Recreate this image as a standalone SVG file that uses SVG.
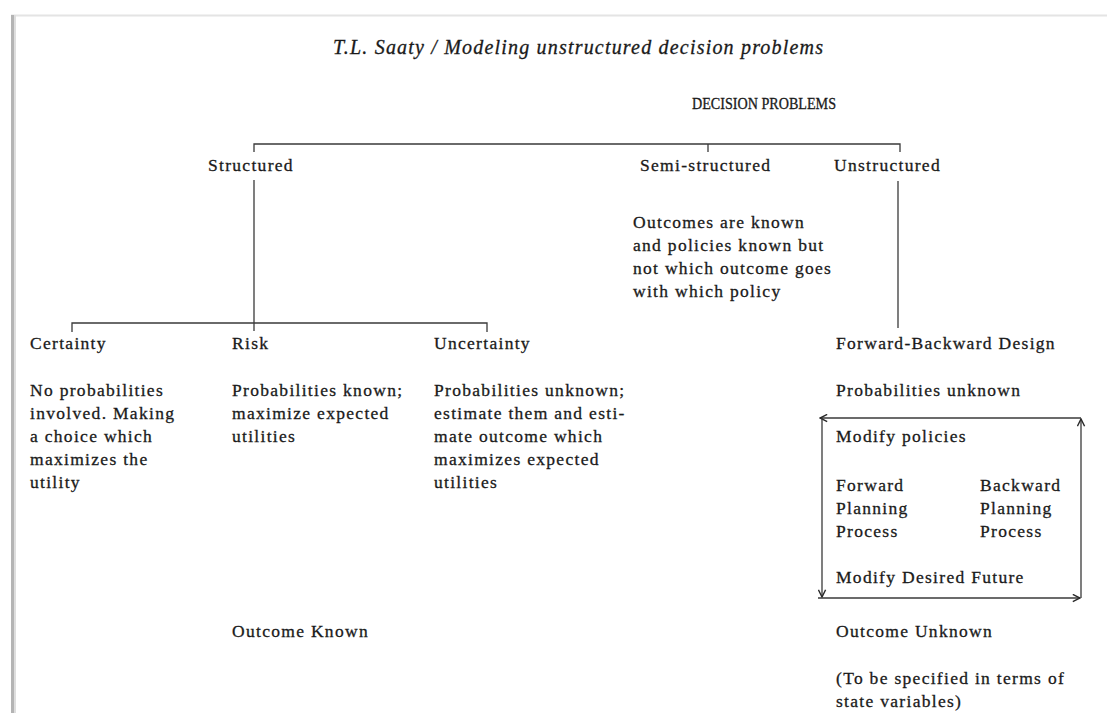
<svg xmlns="http://www.w3.org/2000/svg" width="1107" height="713" viewBox="0 0 1107 713">
  <style>
    .t { font-family: "Liberation Serif", "Times New Roman", serif; font-size: 17.5px; fill: #1a1a1a; stroke: #1a1a1a; stroke-width: 0.3px; letter-spacing: 1.3px; }
    .caps { font-size: 16px; letter-spacing: 0; }
    .it { font-style: italic; font-size: 20px; letter-spacing: 0; }
    .ln { stroke: #3a3a3a; stroke-width: 1.3; fill: none; }
  </style>
  <defs>
    <marker id="head" viewBox="0 0 10 10" refX="9" refY="5" markerWidth="9" markerHeight="9" markerUnits="userSpaceOnUse" orient="auto">
      <path d="M1,1 L9,5 L1,9" fill="none" stroke="#2a2a2a" stroke-width="1.6"/>
    </marker>
  </defs>

  <rect width="1107" height="713" fill="#ffffff"/>

  <!-- page edge -->
  <g id="page-edge">
    <line x1="11" y1="15.5" x2="1107" y2="15.5" stroke="#e4e4e4" stroke-width="2"/>
    <rect x="11" y="15" width="3" height="698" fill="#b4b4b4"/>
    <rect x="14" y="15" width="2" height="698" fill="#dedede"/>
  </g>

  <g id="title">
    <text class="t it" x="333" y="54" textLength="490">T.L. Saaty / Modeling unstructured decision problems</text>
  </g>

  <!-- tree connectors -->
  <g id="connectors" class="ln">
    <polyline points="254,152 254,144 900,144 900,152"/>
    <line x1="708" y1="144" x2="708" y2="152"/>
    <line x1="254" y1="180" x2="254" y2="331"/>
    <polyline points="72,332 72,323 487,323 487,332"/>
    <line x1="898" y1="181" x2="898" y2="328"/>
  </g>

  <g id="decision-problems">
    <text class="t caps" x="692" y="109" textLength="144" lengthAdjust="spacingAndGlyphs">DECISION PROBLEMS</text>
  </g>

  <g id="structured">
    <text class="t" x="208" y="171">Structured</text>
  </g>

  <g id="semi-structured">
    <text class="t" x="640" y="171">Semi-structured</text>
    <text class="t" x="633" y="228">Outcomes are known</text>
    <text class="t" x="633" y="251">and policies known but</text>
    <text class="t" x="633" y="274">not which outcome goes</text>
    <text class="t" x="633" y="297">with which policy</text>
  </g>

  <g id="unstructured">
    <text class="t" x="834" y="171">Unstructured</text>
  </g>

  <g id="certainty">
    <text class="t" x="30" y="349">Certainty</text>
    <text class="t" x="30" y="396">No probabilities</text>
    <text class="t" x="30" y="419">involved. Making</text>
    <text class="t" x="30" y="442">a choice which</text>
    <text class="t" x="30" y="465">maximizes the</text>
    <text class="t" x="30" y="488">utility</text>
  </g>

  <g id="risk">
    <text class="t" x="232" y="349">Risk</text>
    <text class="t" x="232" y="396">Probabilities known;</text>
    <text class="t" x="232" y="419">maximize expected</text>
    <text class="t" x="232" y="442">utilities</text>
  </g>

  <g id="uncertainty">
    <text class="t" x="434" y="349">Uncertainty</text>
    <text class="t" x="434" y="396">Probabilities unknown;</text>
    <text class="t" x="434" y="419">estimate them and esti-</text>
    <text class="t" x="434" y="442">mate outcome which</text>
    <text class="t" x="434" y="465">maximizes expected</text>
    <text class="t" x="434" y="488">utilities</text>
  </g>

  <g id="forward-backward">
    <text class="t" x="836" y="349">Forward-Backward Design</text>
    <text class="t" x="836" y="396">Probabilities unknown</text>
  </g>

  <!-- planning cycle -->
  <g id="planning-cycle">
    <g class="ln">
      <line x1="1081" y1="418" x2="820" y2="418" marker-end="url(#head)"/>
      <line x1="822" y1="418" x2="822" y2="597" marker-end="url(#head)"/>
      <line x1="818" y1="598" x2="1080" y2="598" marker-end="url(#head)"/>
      <line x1="1081" y1="598" x2="1081" y2="419" marker-end="url(#head)"/>
    </g>
    <text class="t" x="836" y="442">Modify policies</text>
    <text class="t" x="836" y="491">Forward</text>
    <text class="t" x="836" y="514">Planning</text>
    <text class="t" x="836" y="537">Process</text>
    <text class="t" x="980" y="491">Backward</text>
    <text class="t" x="980" y="514">Planning</text>
    <text class="t" x="980" y="537">Process</text>
    <text class="t" x="836" y="583">Modify Desired Future</text>
  </g>

  <g id="outcome-known">
    <text class="t" x="232" y="637">Outcome Known</text>
  </g>

  <g id="outcome-unknown">
    <text class="t" x="836" y="637">Outcome Unknown</text>
    <text class="t" x="836" y="684">(To be specified in terms of</text>
    <text class="t" x="836" y="707">state variables)</text>
  </g>
</svg>
